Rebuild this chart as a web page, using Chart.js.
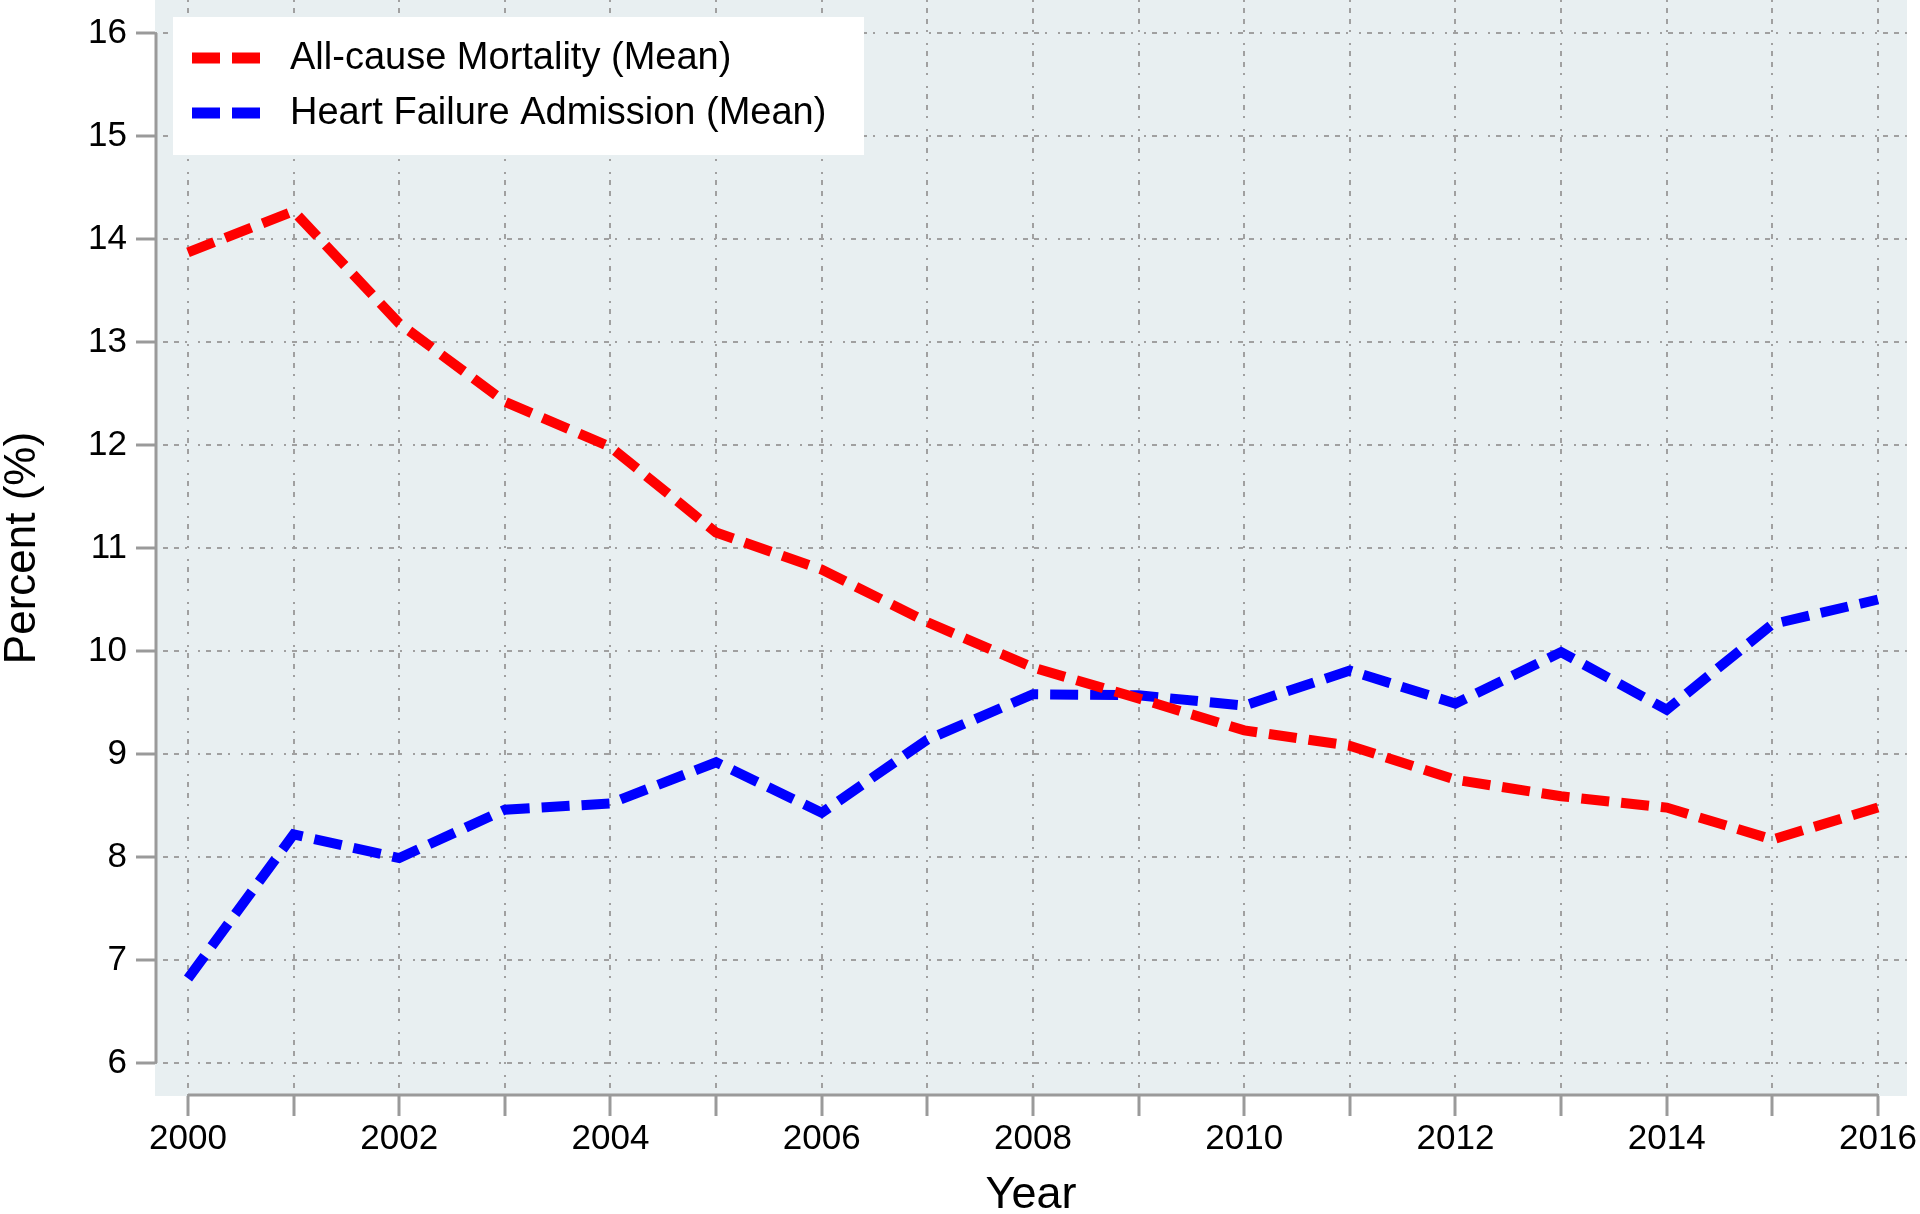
<!DOCTYPE html>
<html>
<head>
<meta charset="utf-8">
<script src="https://cdn.jsdelivr.net/npm/chart.js@4.4.0/dist/chart.umd.min.js"></script>
<style>
  html, body { margin: 0; padding: 0; background: #fff; }
  #wrap { width: 1920px; height: 1214px; }
</style>
</head>
<body>
<div id="wrap"><canvas id="chart" width="1920" height="1214"></canvas></div>
<script>
// values
const years = [2000, 2001, 2002, 2003, 2004, 2005, 2006, 2007, 2008, 2009, 2010, 2011, 2012, 2013, 2014, 2015, 2016];
const mortality = [13.87, 14.27, 13.18, 12.42, 11.98, 11.15, 10.79, 10.28, 9.84, 9.54, 9.23, 9.08, 8.75, 8.59, 8.48, 8.17, 8.48];
const hfAdmission = [6.82, 8.22, 7.99, 8.46, 8.52, 8.92, 8.43, 9.14, 9.58, 9.57, 9.47, 9.81, 9.49, 9.99, 9.43, 10.26, 10.5];
const yTicks = [6, 7, 8, 9, 10, 11, 12, 13, 14, 15, 16];
const xLabelYears = [2000, 2002, 2004, 2006, 2008, 2010, 2012, 2014, 2016];
const seriesLabels = ['All-cause Mortality (Mean)', 'Heart Failure Admission (Mean)'];

const FONT = "'Liberation Sans', Arial, sans-serif";
const GRID = '#9a9a9a';
const DASH = [28, 12];
const GRID_DASH = [2, 6, 5, 6, 5, 6, 2, 11];

const plotBackground = {
  id: 'plotBackground',
  beforeDraw(chart) {
    const { ctx, chartArea: a } = chart;
    ctx.save();
    ctx.fillStyle = '#e8eff1';
    ctx.fillRect(a.left, a.top, a.right - a.left, a.bottom - a.top);
    ctx.restore();
  }
};

// axis lines only span the tick range, like the original
const axisLines = {
  id: 'axisLines',
  beforeDatasetsDraw(chart) {
    const { ctx, chartArea: a, scales: { x, y } } = chart;
    ctx.save();
    ctx.strokeStyle = GRID;
    ctx.lineWidth = 3;
    ctx.beginPath();
    ctx.moveTo(x.getPixelForValue(years[0]), a.bottom - 1);
    ctx.lineTo(x.getPixelForValue(years[years.length - 1]), a.bottom - 1);
    ctx.moveTo(a.left + 1, y.getPixelForValue(yTicks[0]));
    ctx.lineTo(a.left + 1, y.getPixelForValue(yTicks[yTicks.length - 1]));
    ctx.stroke();
    ctx.restore();
  }
};

// legend box sitting inside the plot region
const boxLegend = {
  id: 'boxLegend',
  afterDraw(chart) {
    const { ctx } = chart;
    ctx.save();
    ctx.fillStyle = '#ffffff';
    ctx.fillRect(173, 17, 691, 138);
    chart.data.datasets.forEach((ds, i) => {
      const cy = 58 + i * 55;
      ctx.strokeStyle = ds.borderColor;
      ctx.lineWidth = 11;
      ctx.setLineDash(DASH);
      ctx.beginPath();
      ctx.moveTo(192, cy);
      ctx.lineTo(262, cy);
      ctx.stroke();
      ctx.setLineDash([]);
      ctx.fillStyle = '#000';
      ctx.font = '38px ' + FONT;
      ctx.textBaseline = 'middle';
      ctx.textAlign = 'left';
      ctx.fillText(ds.label, 290, cy + 1);
    });
    ctx.restore();
  }
};

new Chart(document.getElementById('chart'), {
  type: 'line',
  data: {
    datasets: [
      {
        label: seriesLabels[0],
        data: years.map((yr, i) => ({ x: yr, y: mortality[i] })),
        borderColor: '#ff0000',
        borderWidth: 10,
        borderDash: DASH,
        pointRadius: 0,
        tension: 0,
        fill: false
      },
      {
        label: seriesLabels[1],
        data: years.map((yr, i) => ({ x: yr, y: hfAdmission[i] })),
        borderColor: '#0000ff',
        borderWidth: 10,
        borderDash: DASH,
        pointRadius: 0,
        tension: 0,
        fill: false
      }
    ]
  },
  options: {
    responsive: false,
    animation: false,
    devicePixelRatio: 1,
    layout: { padding: { left: 0, right: 13, top: 0, bottom: 0 } },
    plugins: {
      legend: { display: false },
      tooltip: { enabled: false }
    },
    scales: {
      x: {
        type: 'linear',
        min: 1999.6875,
        max: 2016.275,
        afterBuildTicks: (scale) => { scale.ticks = years.map(v => ({ value: v })); },
        afterFit: (scale) => { scale.height = 118; scale.paddingLeft = 0; scale.paddingRight = 0; },
        ticks: {
          autoSkip: false,
          maxRotation: 0,
          padding: 2,
          color: '#000',
          font: { family: FONT, size: 35 },
          callback: (v) => xLabelYears.includes(v) ? String(v) : ''
        },
        grid: {
          color: '#a0a0a0',
          lineWidth: 2,
          tickLength: 20,
          tickWidth: 3,
          tickColor: GRID,
          tickBorderDash: []
        },
        border: { display: false, dash: GRID_DASH },
        title: {
          display: true,
          text: 'Year',
          color: '#000',
          font: { family: FONT, size: 45 },
          padding: { top: 0, bottom: -9 }
        }
      },
      y: {
        type: 'linear',
        min: 5.68,
        max: 16.32,
        afterBuildTicks: (scale) => { scale.ticks = yTicks.map(v => ({ value: v })); },
        afterFit: (scale) => { scale.width = 155; scale.paddingTop = 0; scale.paddingBottom = 0; },
        ticks: {
          padding: 9,
          color: '#000',
          font: { family: FONT, size: 35 }
        },
        grid: {
          color: '#a0a0a0',
          lineWidth: 2,
          tickLength: 19,
          tickWidth: 3,
          tickColor: GRID,
          tickBorderDash: []
        },
        border: { display: false, dash: GRID_DASH },
        title: {
          display: true,
          text: 'Percent (%)',
          color: '#000',
          font: { family: FONT, size: 44 },
          padding: { top: -4, bottom: 0 }
        }
      }
    }
  },
  plugins: [plotBackground, axisLines, boxLegend]
});
</script>
</body>
</html>
